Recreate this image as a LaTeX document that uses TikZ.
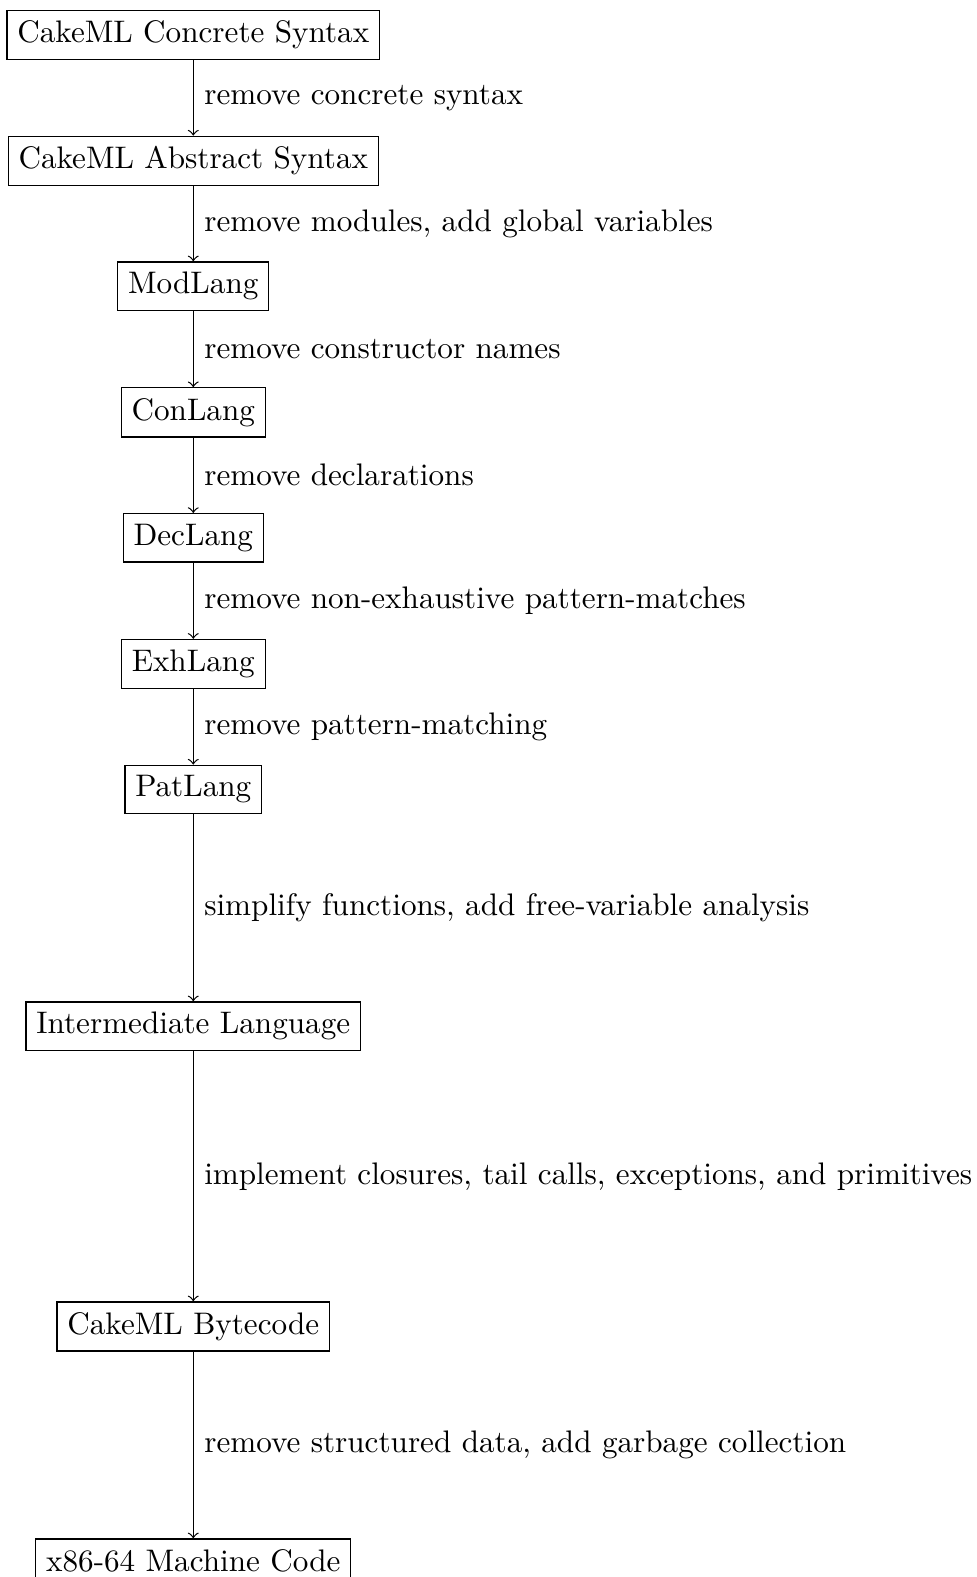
\documentclass[tikz,border=0pt]{standalone}
\begin{document}
\begin{tikzpicture}[x=1pt,y=1pt,
  box/.style={draw, anchor=north, line width=0.4pt},
  lbl/.style={midway, right},
  >=to]
\useasboundingbox (0,0) rectangle (313.5,-506.1);
\node[box] (cs)  at (62.03,-3.08)   {CakeML Concrete Syntax};
\node[box] (as)  at (62.03,-43.52)  {CakeML Abstract Syntax};
\node[box] (mod) at (62.03,-83.86)  {ModLang};
\node[box] (con) at (62.03,-124.26) {ConLang};
\node[box] (dec) at (62.03,-164.63) {DecLang};
\node[box] (exh) at (62.03,-205.01) {ExhLang};
\node[box] (pat) at (62.03,-245.38) {PatLang};
\node[box] (il)  at (62.03,-321.34) {Intermediate Language};
\node[box] (bc)  at (62.03,-417.62) {CakeML Bytecode};
\node[box] (x86) at (62.03,-493.68) {x86-64 Machine Code};
\draw[->] (cs)  -- node[lbl] {remove concrete syntax} (as);
\draw[->] (as)  -- node[lbl] {remove modules, add global variables} (mod);
\draw[->] (mod) -- node[lbl] {remove constructor names} (con);
\draw[->] (con) -- node[lbl] {remove declarations} (dec);
\draw[->] (dec) -- node[lbl] {remove non-exhaustive pattern-matches} (exh);
\draw[->] (exh) -- node[lbl] {remove pattern-matching} (pat);
\draw[->] (pat) -- node[lbl] {simplify functions, add free-variable analysis} (il);
\draw[->] (il)  -- node[lbl] {implement closures, tail calls, exceptions, and primitives} (bc);
\draw[->] (bc)  -- node[lbl] {remove structured data, add garbage collection} (x86);
\end{tikzpicture}
\end{document}
